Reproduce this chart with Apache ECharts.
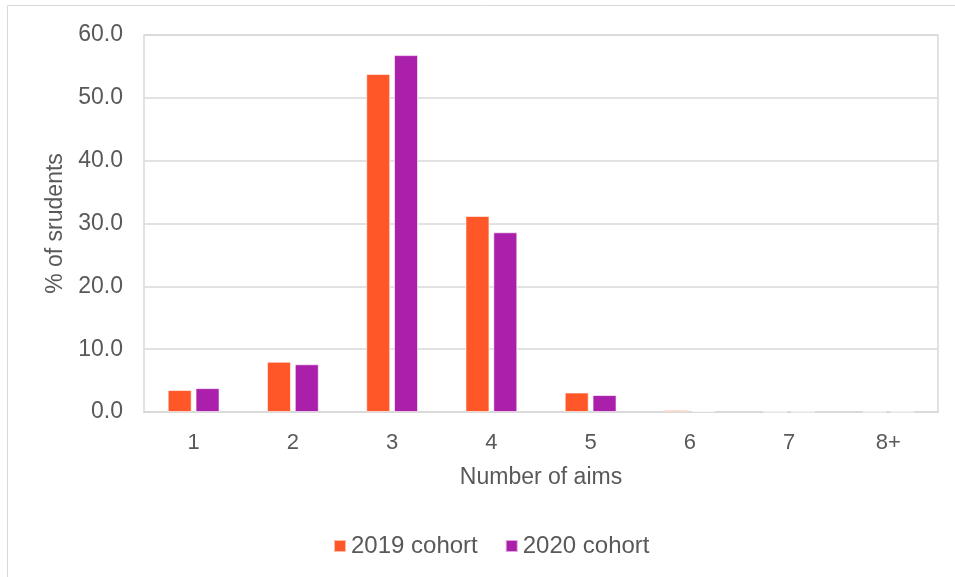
<!DOCTYPE html>
<html><head><meta charset="utf-8">
<script src="https://cdn.jsdelivr.net/npm/echarts@6/dist/echarts.min.js"></script>
<style>html,body{margin:0;padding:0;background:#fff}#c{width:955px;height:577px}</style>
</head><body><div id="c"></div>
<script>
const categories = ['1','2','3','4','5','6','7','8+'];
const cohort2019 = [3.5, 8.0, 53.8, 31.2, 3.1, 0.3, 0.05, 0.05];
const cohort2020 = [3.8, 7.6, 56.8, 28.6, 2.7, 0.15, 0.05, 0.05];
const seriesNames = ['2019 cohort', '2020 cohort'];

const font = 'Liberation Sans, Arial, sans-serif';
const chart = echarts.init(document.getElementById('c'), null, {renderer:'canvas'});
chart.setOption({
  animation: false,
  backgroundColor: '#fff',
  graphic: [{type:'rect', shape:{x:7.5, y:5.5, width:1000, height:1000}, style:{fill:'none', stroke:'#d9d9d9', lineWidth:1}, silent:true}],
  grid: {left:144, top:35, right:17, bottom:165, show:true, borderColor:'#d9d9d9', borderWidth:1.5},
  legend: {
    data: seriesNames, left: 333, top: 534, padding: 0, itemWidth: 12, itemHeight: 12, itemGap: 27, itemTextGap: 7, icon: 'rect',
    textStyle: {fontFamily: font, fontSize: 24, color: '#595959'}
  },
  xAxis: {
    type: 'category', data: categories,
    name: 'Number of aims', nameLocation: 'middle', nameGap: 54,
    nameTextStyle: {fontFamily: font, fontSize: 23, color: '#595959'},
    axisLine: {show: true, lineStyle: {color: '#d9d9d9', width: 1.5}},
    axisTick: {show: false},
    axisLabel: {fontFamily: font, fontSize: 22, color: '#595959', margin: 20}
  },
  yAxis: {
    type: 'value', min: 0, max: 60, interval: 10,
    name: '% of srudents', nameLocation: 'middle', nameGap: 75,
    nameTextStyle: {fontFamily: font, fontSize: 23, color: '#595959'},
    axisLine: {show: false}, axisTick: {show: false},
    splitLine: {lineStyle: {color: '#d9d9d9', width: 1.5}},
    axisLabel: {fontFamily: font, fontSize: 23, color: '#595959', margin: 21, formatter: v => v.toFixed(1)}
  },
  series: [
    {name: seriesNames[0], type: 'bar', data: cohort2019, barWidth: 24, barGap: '16%',
     itemStyle: {color: '#FF5728', borderColor: 'rgba(255,255,255,0.6)', borderWidth: 1}},
    {name: seriesNames[1], type: 'bar', data: cohort2020, barWidth: 24,
     itemStyle: {color: '#AB20AB', borderColor: 'rgba(255,255,255,0.6)', borderWidth: 1}}
  ]
});
</script>
</body></html>
